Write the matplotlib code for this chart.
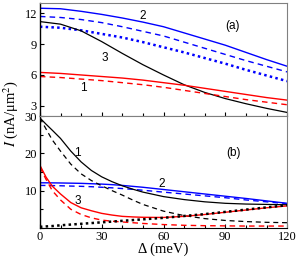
import matplotlib
matplotlib.use('Agg')
import matplotlib.pyplot as plt
from matplotlib.ticker import MultipleLocator

plt.rcParams['font.family'] = ['Liberation Serif', 'DejaVu Serif']
plt.rcParams['mathtext.fontset'] = 'stix'

# panel (a)
delta_a = [0, 10, 20, 30, 40, 50, 60, 70, 80, 90, 100, 110, 120]
a_blue_solid = [12.5, 12.45, 12.2, 11.9, 11.55, 11.15, 10.7, 10.1, 9.5, 8.9, 8.2, 7.5, 6.85]
a_blue_dash = [11.7, 11.6, 11.4, 11.1, 10.7, 10.25, 9.8, 9.2, 8.6, 8.0, 7.4, 6.85, 6.3]
a_blue_dot = [10.7, 10.6, 10.35, 10.0, 9.65, 9.2, 8.7, 8.2, 7.65, 7.1, 6.5, 5.95, 5.4]
a_black = [11.2, 10.95, 10.3, 9.25, 8.1, 7.0, 6.0, 5.05, 4.3, 3.7, 3.2, 2.75, 2.35]
a_red_solid = [6.25, 6.15, 6.0, 5.85, 5.7, 5.5, 5.25, 5.0, 4.7, 4.4, 4.1, 3.8, 3.55]
a_red_dash = [5.85, 5.75, 5.6, 5.45, 5.25, 5.05, 4.8, 4.5, 4.2, 3.9, 3.6, 3.35, 3.1]

# panel (b)
delta_b = [0, 3, 6, 10, 15, 20, 25, 30, 35, 40, 45, 50, 60, 70, 80, 90, 100, 110, 120]
b_black_solid = [29.5, 27.8, 26.2, 24.0, 20.6, 17.7, 15.4, 13.7, 12.4, 11.3, 10.4, 9.6, 8.4, 7.6, 7.0, 6.6, 6.4, 6.3, 6.2]
b_black_dash = [29.5, 26.5, 23.6, 20.6, 17.1, 14.5, 12.7, 11.3, 10.0, 8.8, 7.5, 6.3, 4.5, 3.3, 2.5, 2.0, 1.7, 1.5, 1.4]
b_red_solid = [16.8, 13.6, 11.2, 9.1, 6.8, 5.4, 4.6, 3.9, 3.45, 3.1, 2.95, 2.85, 2.8, 3.1, 3.6, 4.2, 4.8, 5.4, 5.9]
b_red_dash = [16.3, 13.0, 10.0, 7.5, 5.0, 3.6, 2.7, 2.1, 1.8, 1.6, 1.4, 1.2, 0.9, 0.7, 0.6, 0.55, 0.5, 0.5, 0.5]
b_blue_solid = [12.1, 12.09, 12.08, 12.05, 12.0, 11.95, 11.85, 11.75, 11.6, 11.4, 11.15, 10.9, 10.3, 9.7, 9.1, 8.5, 7.9, 7.25, 6.6]
b_blue_dash = [11.4, 11.38, 11.35, 11.3, 11.22, 11.15, 11.05, 10.9, 10.75, 10.55, 10.35, 10.1, 9.6, 9.1, 8.6, 8.1, 7.5, 7.0, 6.5]
b_black_dot = [0.3, 0.4, 0.5, 0.7, 0.9, 1.1, 1.3, 1.5, 1.7, 1.9, 2.1, 2.3, 2.7, 3.2, 3.7, 4.3, 4.9, 5.5, 6.1]

BLUE = '#0000ff'
RED = '#ff0000'
dash = (0, (4, 3))
dot = (0, (1, 1.3))

fig = plt.figure(figsize=(3.0, 2.59), dpi=100)
ax1 = fig.add_axes([0.133, 0.552, 0.824, 0.436])
ax2 = fig.add_axes([0.133, 0.120, 0.824, 0.432])

ax1.plot(delta_a, a_blue_solid, color=BLUE, lw=1)
ax1.plot(delta_a, a_blue_dash, color=BLUE, lw=1, ls=dash)
ax1.plot(delta_a, a_blue_dot, color=BLUE, lw=1.8, ls=dot)
ax1.plot(delta_a, a_black, color='black', lw=0.9)
ax1.plot(delta_a, a_red_solid, color=RED, lw=1)
ax1.plot(delta_a, a_red_dash, color=RED, lw=1, ls=dash)

ax2.plot(delta_b, b_blue_solid, color=BLUE, lw=1)
ax2.plot(delta_b, b_blue_dash, color=BLUE, lw=1, ls=dash)
ax2.plot(delta_b, b_black_solid, color='black', lw=0.9)
ax2.plot(delta_b, b_black_dash, color='black', lw=0.9, ls=dash)
ax2.plot(delta_b, b_red_solid, color=RED, lw=1)
ax2.plot(delta_b, b_red_dash, color=RED, lw=1, ls=dash)
ax2.plot(delta_b, b_black_dot, color='black', lw=1.8, ls=dot)

for ax in (ax1, ax2):
    ax.set_xlim(0, 120)
    ax.xaxis.set_major_locator(MultipleLocator(30))
    ax.xaxis.set_minor_locator(MultipleLocator(10))
    ax.tick_params(which='both', direction='in', labelsize=9, width=0.8,
                   top=False, right=False, pad=2)
    ax.tick_params(which='major', length=3)
    ax.tick_params(which='minor', length=2)
    for s in ('top', 'right'):
        ax.spines[s].set_color('#808080')
        ax.spines[s].set_linewidth(0.8)
    ax.spines['left'].set_linewidth(1.0)
    ax.spines['bottom'].set_linewidth(0.8)

ax1.spines['bottom'].set_color('#808080')
ax1.set_ylim(2, 13)
ax1.set_yticks([3, 6, 9, 12])
ax1.tick_params(labelbottom=False)

ax2.set_ylim(0, 30)
ax2.set_yticks([0, 10, 20, 30])
ax2.set_yticklabels(['', '10', '20', '30'])
ax2.yaxis.set_minor_locator(MultipleLocator(5))

sans = ['Liberation Sans', 'DejaVu Sans']
ax1.text(50, 11.75, '2', family=sans, fontsize=8.5, ha='center', va='center')
ax1.text(31.5, 7.7, '3', family=sans, fontsize=8.5, ha='center', va='center')
ax1.text(21, 4.7, '1', family=sans, fontsize=8.5, ha='center', va='center')
ax1.text(93.5, 10.8, '(a)', family=sans, fontsize=8.5, ha='center', va='center')

ax2.text(18, 20.2, '1', family=sans, fontsize=8.5, ha='center', va='center')
ax2.text(59, 11.8, '2', family=sans, fontsize=8.5, ha='center', va='center')
ax2.text(18.6, 7.3, '3', family=sans, fontsize=8.5, ha='center', va='center')
ax2.text(94, 20.2, '(b)', family=sans, fontsize=8.5, ha='center', va='center')

ax2.set_xlabel('Δ (meV)', fontsize=10.5, labelpad=0)
fig.text(0.035, 0.56, r'$I$ (nA/μm$^2$)', rotation=90, fontsize=10.5,
         ha='center', va='center')

fig.savefig('out.png', dpi=100)
